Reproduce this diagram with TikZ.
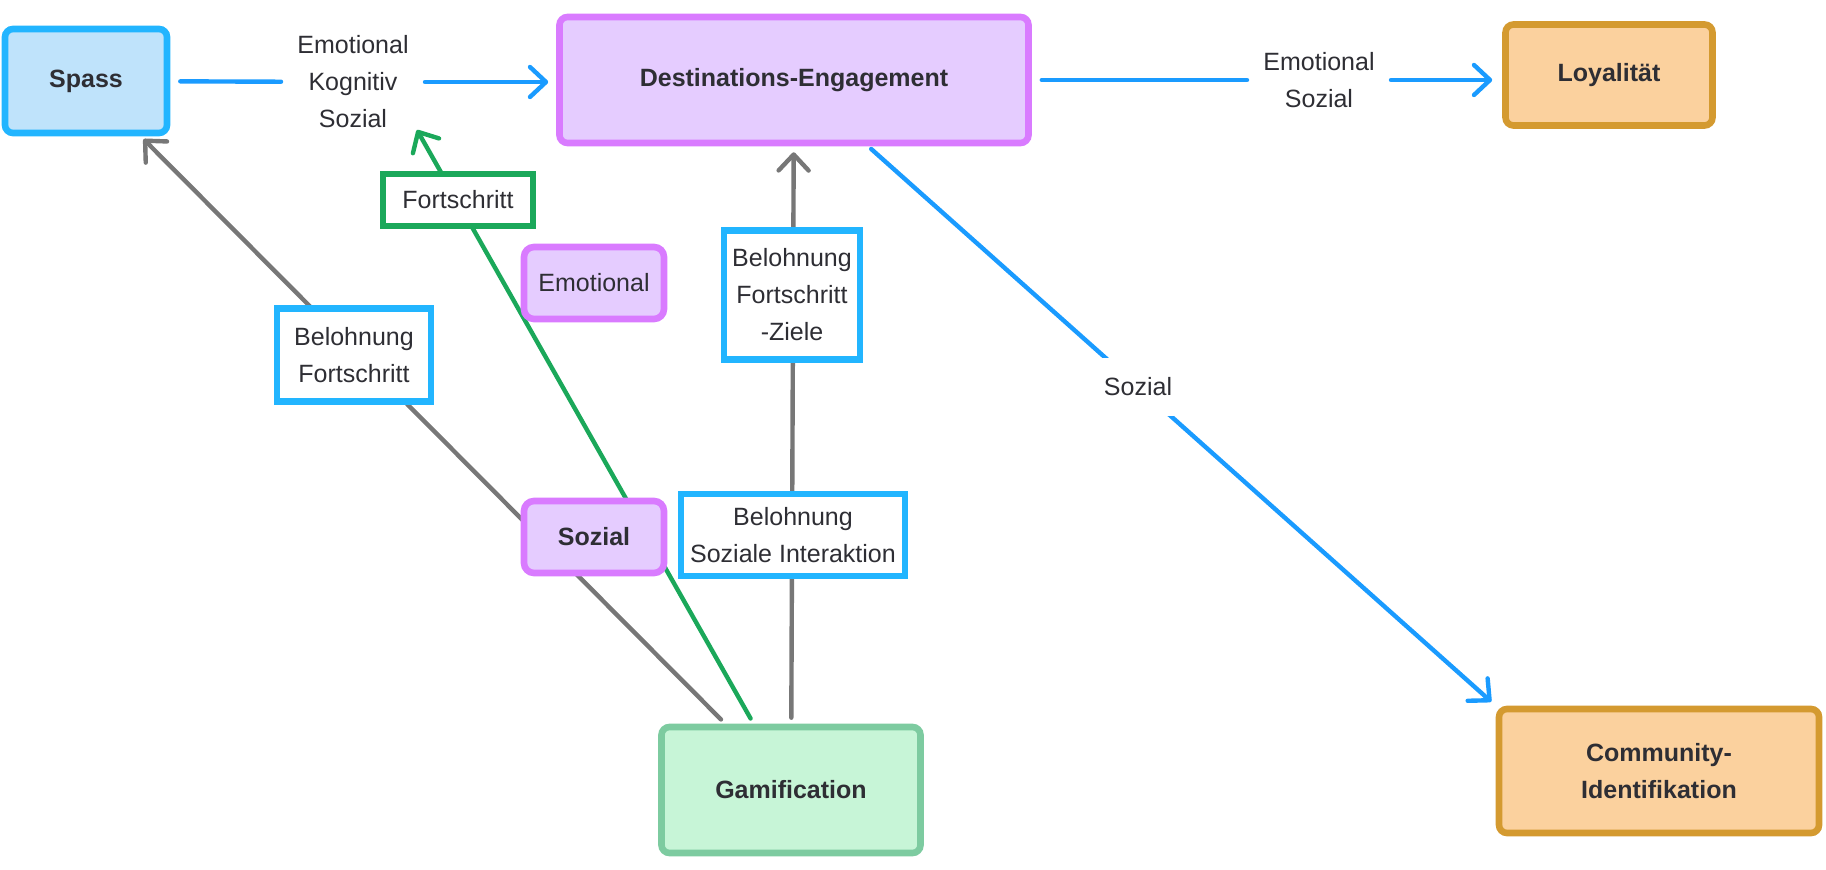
\documentclass[tikz,border=0pt]{standalone}
\usepackage{fontspec}
\setmainfont{Liberation Sans}
\usepackage{tikz}
\usetikzlibrary{arrows.meta}

\definecolor{txtgray}{HTML}{2E2E34}
\definecolor{bluebdr}{HTML}{22B5FF}
\definecolor{bluefill}{HTML}{BFE3FB}
\definecolor{blueline}{HTML}{1A9BFF}
\definecolor{purplebdr}{HTML}{D97BFF}
\definecolor{purplefill}{HTML}{E5CCFF}
\definecolor{orangebdr}{HTML}{D49A30}
\definecolor{orangefill}{HTML}{FBD19E}
\definecolor{greenbdr}{HTML}{7DCBA0}
\definecolor{greenfill}{HTML}{C7F5D7}
\definecolor{greenline}{HTML}{1BA85A}
\definecolor{grayline}{HTML}{777777}

\begin{document}
\begin{tikzpicture}[x=0.5pt,y=-0.5pt]
	\tikzset{every node/.style={font=\fontsize{12.5}{18.5}\selectfont,text=txtgray,align=center}}
	\tikzset{mainbox/.style={draw,line width=3.3pt,rounded corners=4pt,font=\fontsize{12.5}{18.5}\selectfont\bfseries}}
	\tikzset{tagbox/.style={draw=bluebdr,fill=white,line width=3.3pt,inner sep=0pt}}
	\tikzset{moodbox/.style={draw=purplebdr,fill=purplefill,line width=3.3pt,rounded corners=5pt,minimum width=70pt,minimum height=36pt}}
	\tikzset{edgetxt/.style={fill=white,inner xsep=8pt,inner ysep=8pt}}
	\tikzset{wire/.style={line width=2.2pt,line cap=round}}
	\tikzset{arrowed/.style={-{Straight Barb[length=8pt,width=15pt,round]}}}
	%\draw[help lines] (0,0) grid (1826,870);
	\useasboundingbox (0,0) rectangle (1826,870);
	\node[mainbox,draw=bluebdr,fill=bluefill,minimum width=81pt,minimum height=52pt] (spass) at (86,81) {Spass};
	\node[mainbox,draw=purplebdr,fill=purplefill,minimum width=234.5pt,minimum height=63pt] (dest) at (794,80) {Destinations-Engagement};
	\node[mainbox,draw=orangebdr,fill=orangefill,minimum width=103.5pt,minimum height=50.5pt] (loy) at (1609,75) {Loyalität};
	\node[mainbox,draw=orangebdr,fill=orangefill,minimum width=160pt,minimum height=62pt] (comm) at (1659,771) {Community-\\Identifikation};
	\node[mainbox,draw=greenbdr,fill=greenfill,minimum width=129.5pt,minimum height=63pt] (gam) at (791,790) {Gamification};
	\node[edgetxt] (eks) at (353,82) {Emotional\\Kognitiv\\Sozial};
	\node[edgetxt] (es) at (1319,80) {Emotional\\Sozial};
	\coordinate (eksaim) at (417,130);
	\draw[wire,blueline,shorten <=5pt] (spass) -- (eks);
	\draw[wire,arrowed,blueline,shorten >=4pt] (eks) -- (eks -| dest.west);
	\draw[wire,blueline,shorten <=5pt] (dest) -- (es);
	\draw[wire,arrowed,blueline,shorten >=5pt] (es) -- (es -| loy.west);
	\draw[wire,arrowed,blueline,shorten <=2pt,shorten >=3pt] (dest) -- node[pos=0.43,edgetxt,inner ysep=10pt] (sozlbl) {Sozial} (comm.north west);
	\draw[wire,arrowed,grayline,shorten <=3pt,shorten >=2pt] (gam) -- (spass);
	\draw[wire,arrowed,greenline,shorten <=3pt] (gam) -- (eksaim);
	\draw[wire,arrowed,grayline,shorten <=3pt,shorten >=3pt] (gam) -- (dest);
	\node[tagbox,minimum width=77pt,minimum height=46.5pt] (bfort) at (354,355) {Belohnung\\Fortschritt};
	\node[tagbox,minimum width=68pt,minimum height=64.5pt] (ziele) at (792,295) {Belohnung\\Fortschritt\\-Ziele};
	\node[tagbox,minimum width=112pt,minimum height=41pt] (sozint) at (793,535) {Belohnung\\Soziale Interaktion};
	\node[tagbox,draw=greenline,line width=2.7pt,minimum width=75pt,minimum height=26pt] (fort) at (458,200) {Fortschritt};
	\node[moodbox] (emot) at (594,283) {Emotional};
	\node[moodbox,font=\fontsize{12.5}{18.5}\selectfont\bfseries] (sozial) at (594,537) {Sozial};
\end{tikzpicture}
\end{document}
